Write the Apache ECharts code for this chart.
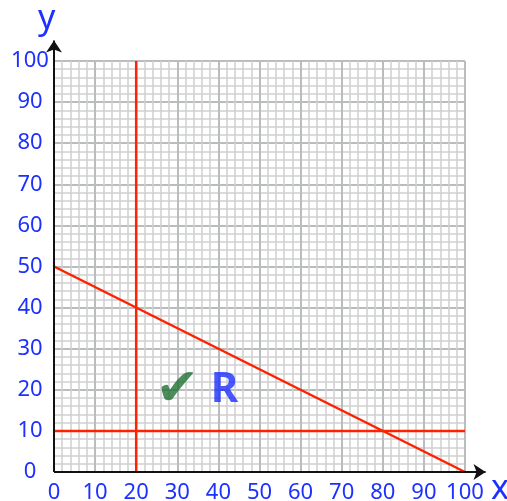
<!DOCTYPE html>
<html><head><meta charset="utf-8">
<script src="https://cdn.jsdelivr.net/npm/echarts@6/dist/echarts.min.js"></script>
<style>html,body{margin:0;padding:0;background:#fff}#c{width:507px;height:501px}</style>
</head><body><div id="c"></div>
<script>
// Boundary lines (data coordinates)
const lineX20 = [[20, 0], [20, 100]];
const lineY10 = [[0, 10], [100, 10]];
const lineDiag = [[0, 50], [100, 0]];
// Axis arrows
const xAxisArrow = [[0, 0], [105, 0]];
const yAxisArrow = [[0, 0], [0, 105]];
// Annotations
const tickMark = [[30, 19.5, '✔']];
const regionLabel = [[41.5, 20, 'R']];
const xTicks = [0,10,20,30,40,50,60,70,80,90,100];
const yTicks = [0,10,20,30,40,50,60,70,80,90,100];

const BLUE = '#1c30ff';
const RED = '#ff2200';
const FONT = 'Noto Sans';

const chart = echarts.init(document.getElementById('c'));
const axisCommon = {
  type: 'value', min: 0, max: 100, interval: 10,
  axisLine: {show: false}, axisTick: {show: false},
  splitLine: {show: true, lineStyle: {color: '#b9bdbd', width: 2}},
  minorTick: {show: false, splitNumber: 5},
  minorSplitLine: {show: true, lineStyle: {color: '#cfcfcf', width: 1.5}},
};
chart.setOption({
  animation: false,
  grid: {left: 54, top: 61, right: 42, bottom: 29, containLabel: false, outerBoundsMode: 'none'},
  xAxis: Object.assign({}, axisCommon, {
    axisLabel: {color: BLUE, fontFamily: FONT, fontSize: 22, margin: 10,
      formatter: v => xTicks.includes(v) ? String(v) : ''}
  }),
  yAxis: Object.assign({}, axisCommon, {
    axisLabel: {color: BLUE, fontFamily: FONT, fontSize: 22, margin: 24, align: 'center',
      formatter: v => yTicks.includes(v) ? String(v) : ''}
  }),
  graphic: [
    {type: 'text', left: 38, top: 2, style: {text: 'y', fill: BLUE, font: '34px "Noto Sans"'}},
    {type: 'text', left: 491, top: 472, style: {text: 'x', fill: BLUE, font: '34px "Noto Sans"'}}
  ],
  series: [
    {type: 'line', data: lineX20, showSymbol: false, lineStyle: {color: RED, width: 2.5}, z: 5},
    {type: 'line', data: lineY10, showSymbol: false, lineStyle: {color: RED, width: 2.5}, z: 5},
    {type: 'line', data: lineDiag, showSymbol: false, lineStyle: {color: RED, width: 2.5}, z: 5},
    {type: 'lines', coordinateSystem: 'cartesian2d', clip: false, polyline: false,
      symbol: ['none', 'arrow'], symbolSize: [0, 12],
      lineStyle: {color: '#111', width: 2, opacity: 1}, z: 6,
      data: [{coords: xAxisArrow}, {coords: yAxisArrow}]},
    {type: 'scatter', data: tickMark, symbolSize: 0, z: 7,
      label: {show: true, position: 'inside', formatter: p => p.data[2],
        color: '#1f7033', fontSize: 52, fontFamily: 'DejaVu Sans'}},
    {type: 'scatter', data: regionLabel, symbolSize: 0, z: 7,
      label: {show: true, position: 'inside', formatter: p => p.data[2],
        color: BLUE, fontSize: 42, fontWeight: 'bold', fontFamily: FONT}}
  ]
});
</script></body></html>
